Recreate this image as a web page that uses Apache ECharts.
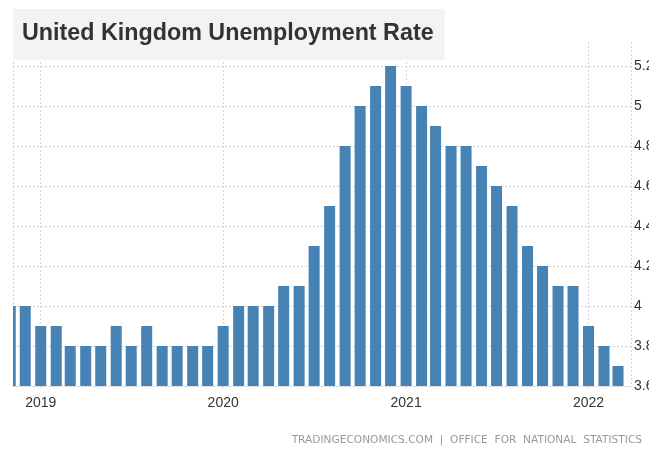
<!DOCTYPE html>
<html>
<head>
<meta charset="utf-8">
<title>United Kingdom Unemployment Rate</title>
<script src="https://cdn.jsdelivr.net/npm/echarts@6/dist/echarts.min.js"></script>
<style>
    html, body { margin: 0; padding: 0; background: #fff; }
    #chart { width: 649px; height: 458px; }
</style>
</head>
<body>
<div id="chart"></div>
<script>
// monthly unemployment rate, %
var months = [
    '2018-11', '2018-12',
    '2019-01', '2019-02', '2019-03', '2019-04', '2019-05', '2019-06',
    '2019-07', '2019-08', '2019-09', '2019-10', '2019-11', '2019-12',
    '2020-01', '2020-02', '2020-03', '2020-04', '2020-05', '2020-06',
    '2020-07', '2020-08', '2020-09', '2020-10', '2020-11', '2020-12',
    '2021-01', '2021-02', '2021-03', '2021-04', '2021-05', '2021-06',
    '2021-07', '2021-08', '2021-09', '2021-10', '2021-11', '2021-12',
    '2022-01', '2022-02', '2022-03'
];
var rates = [
    4.0, 4.0,
    3.9, 3.9, 3.8, 3.8, 3.8, 3.9,
    3.8, 3.9, 3.8, 3.8, 3.8, 3.8,
    3.9, 4.0, 4.0, 4.0, 4.1, 4.1,
    4.3, 4.5, 4.8, 5.0, 5.1, 5.2,
    5.1, 5.0, 4.9, 4.8, 4.8, 4.7,
    4.6, 4.5, 4.3, 4.2, 4.1, 4.1,
    3.9, 3.8, 3.7
];
var xStart = '2018-11-06 12:00';
var xEnd = '2022-03-27';
var yTicks = [3.6, 5.2];

var chart = echarts.init(document.getElementById('chart'));

var t0 = echarts.time.parse(xStart).getTime();
var t1 = echarts.time.parse(xEnd).getTime();

// bars sit on a plain value axis holding the same timestamps as the time axis
var data = months.map(function (m, i) {
    return [echarts.time.parse(m + '-01').getTime(), rates[i]];
});

var dotted = { color: '#d2d2d2', type: [2, 2], width: 1 };
var yearMs = 365 * 24 * 3600 * 1000;

var option = {
    animation: false,
    textStyle: { fontFamily: 'Liberation Sans, Arial, sans-serif' },
    title: [{
        text: 'United Kingdom Unemployment Rate',
        left: 13,
        top: 9,
        backgroundColor: '#f3f3f3',
        padding: [12, 11, 13, 9],
        textStyle: {
            color: '#333',
            fontSize: 23.3,
            fontWeight: 'bold',
            lineHeight: 26,
            fontFamily: 'Liberation Sans, Arial, sans-serif'
        }
    }, {
        text: 'TRADINGECONOMICS.COM  |  OFFICE  FOR  NATIONAL  STATISTICS',
        right: 7,
        top: 435,
        padding: 0,
        textStyle: {
            color: '#999',
            fontSize: 10.6,
            fontWeight: 'normal',
            fontFamily: 'DejaVu Sans, sans-serif'
        }
    }],
    grid: [
        { left: 13, right: 18, top: 42, bottom: 72, outerBoundsMode: 'none' },
        { left: 13, right: 18, top: 66, bottom: 72, outerBoundsMode: 'none' }
    ],
    // bars on a non-category axis are not cut at the plot edge, so mask the left margin
    graphic: [{
        type: 'rect',
        left: 0,
        top: 42,
        z: 100,
        shape: { width: 13, height: 344 },
        style: { fill: '#fff' },
        silent: true
    }],
    xAxis: [{
        type: 'time',
        gridIndex: 0,
        position: 'bottom',
        min: t0,
        max: t1,
        minInterval: yearMs,
        axisLine: { show: true, lineStyle: dotted },
        axisTick: { show: true, length: 4, lineStyle: dotted },
        splitLine: { show: true, lineStyle: dotted },
        axisLabel: {
            formatter: '{yyyy}',
            color: '#333',
            fontSize: 14,
            margin: 10
        }
    }, {
        type: 'value',
        gridIndex: 0,
        position: 'top',
        min: t0,
        max: t1,
        show: false
    }, {
        type: 'time',
        gridIndex: 1,
        min: t0,
        max: t1,
        show: false
    }],
    yAxis: [{
        type: 'value',
        gridIndex: 0,
        min: yTicks[0],
        max: 5.32,
        show: false
    }, {
        type: 'value',
        gridIndex: 1,
        position: 'right',
        min: yTicks[0],
        max: yTicks[1],
        interval: 0.2,
        axisLine: { show: false },
        axisTick: { show: false },
        splitLine: { show: true, lineStyle: dotted },
        axisLabel: {
            color: '#333',
            fontSize: 14,
            margin: 3
        }
    }],
    series: [{
        name: 'Unemployment Rate',
        type: 'bar',
        xAxisIndex: 1,
        yAxisIndex: 0,
        barWidth: 11,
        clip: true,
        itemStyle: { color: '#4682b4' },
        data: data
    }]
};

chart.setOption(option);
</script>
</body>
</html>
